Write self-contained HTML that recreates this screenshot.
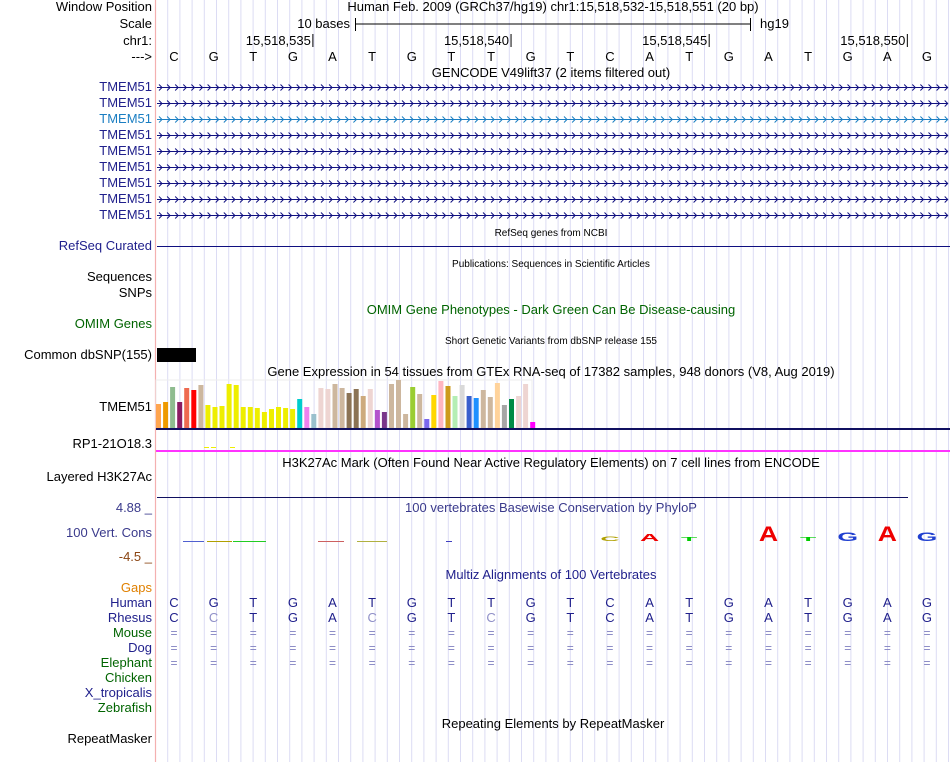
<!DOCTYPE html>
<html><head><meta charset="utf-8"><style>
html,body{margin:0;padding:0;background:#fff;}
svg{display:block;font-family:"Liberation Sans",sans-serif;font-size:13px;}
</style></head><body>
<svg id="chart" width="950" height="762" viewBox="0 0 950 762">
<g id="grid"></g>
<line x1="155.5" y1="0" x2="155.5" y2="762" stroke="#f4b0b0" stroke-width="1.2"/>
<g id="labels" font-size="13" text-anchor="end"></g>
<g id="tracks"></g>
</svg>
<script>
const NS='http://www.w3.org/2000/svg';
const svg=document.getElementById('chart');
const bases=['C','G','T','G','A','T','G','T','T','G','T','C','A','T','G','A','T','G','A','G'];
const rhesus=['C','C','T','G','A','C','G','T','C','G','T','C','A','T','G','A','T','G','A','G'];
const tickLabels=['15,518,535','15,518,540','15,518,545','15,518,550'];
const tickBaseIdx=[3,8,13,18];
const gtexValues=[24,26,41,26,40,38,43,23,21,22,44,43,21,21,20,16,19,21,20,19,29,21,14,40,39,44,40,35,39,32,39,18,16,44,48,14,41,34,9,33,47,42,32,43,32,30,38,31,45,23,29,32,44,6];
const gtexColors=['#ffa54f','#ee9a00','#8fbc8f','#8b1c62','#ee6a50','#ff0000','#cdb79e','#eeee00','#eeee00','#eeee00','#eeee00','#eeee00','#eeee00','#eeee00','#eeee00','#eeee00','#eeee00','#eeee00','#eeee00','#eeee00','#00cdcd','#ee82ee','#9ac0cd','#eed5d2','#eed5d2','#cdb79e','#cdb79e','#8b7355','#8b7355','#cdaa7d','#eed5d2','#b452cd','#7a378b','#cdb79e','#cdb79e','#cdb79e','#9acd32','#cdb79e','#7b68ee','#ffd700','#ffb6c1','#cd9b1d','#b4eeb4','#d9d9d9','#3a5fcd','#1e90ff','#cdb79e','#cdb79e','#ffd39b','#a6a6a6','#008b45','#eed5d2','#eed5d2','#ff00ff'];
const consLetters=['C','A','T','A','T','G','A','G'];
const consIdx=[11,12,13,15,16,17,18,19];
const consScores=[0.3,0.45,0.25,0.95,0.25,0.55,0.95,0.55];
const x0=174, dx=39.63;
function bx(i){return x0+dx*i;}
function el(tag,attrs,parent,text){const e=document.createElementNS(NS,tag);for(const k in attrs)e.setAttribute(k,attrs[k]);if(text!==undefined)e.textContent=text;(parent||svg).appendChild(e);return e;}
const grid=document.getElementById('grid');
for(let x=167.7;x<950;x+=12.2){const l=el('line',{x1:x.toFixed(1),x2:x.toFixed(1),y1:0,y2:762,stroke:'#dcdcf4','stroke-width':1},grid);

}
const labels=document.getElementById('labels');
const lab=[['Window Position',11,'#000'],['Scale',28,'#000'],['chr1:',45,'#000'],['--->',61,'#000'],
['TMEM51',91,'#20208c'],['TMEM51',107,'#20208c'],['TMEM51',123,'#1a7ec2'],['TMEM51',139,'#20208c'],['TMEM51',155,'#20208c'],['TMEM51',171,'#20208c'],['TMEM51',187,'#20208c'],['TMEM51',203,'#20208c'],['TMEM51',219,'#20208c'],
['RefSeq Curated',250,'#20208c'],['Sequences',281,'#000'],['SNPs',297,'#000'],['OMIM Genes',328,'#006400'],['Common dbSNP(155)',359,'#000'],
['TMEM51',411,'#000'],['RP1-21O18.3',448,'#000'],['Layered H3K27Ac',481,'#000'],['100 Vert. Cons',537,'#3a3a8c'],['Gaps',592,'#e08000'],
['Human',607,'#20208c'],['Rhesus',622,'#20208c'],['Mouse',637,'#006400'],['Dog',652,'#20208c'],['Elephant',667,'#006400'],['Chicken',682,'#006400'],['X_tropicalis',697,'#20208c'],['Zebrafish',712,'#006400'],['RepeatMasker',743,'#000']];
lab.forEach(a=>{const t=el('text',{x:152,y:a[1],fill:a[2]},labels,a[0]);

});
el('text',{x:152,y:512,fill:'#3a3a8c','text-anchor':'end'},svg,'4.88 _');
el('text',{x:152,y:561,fill:'#8b4513','text-anchor':'end'},svg,'-4.5 _');
const T=document.getElementById('tracks');
function ctext(x,y,s,fill,size,name){const t=el('text',{x:x,y:y,'text-anchor':'middle',fill:fill||'#000','font-size':size||13},T,s);

return t;}
ctext(553,11,'Human Feb. 2009 (GRCh37/hg19)   chr1:15,518,532-15,518,551 (20 bp)','#000',13,'window-position');
el('line',{x1:355,x2:751,y1:24,y2:24,stroke:'#000'},T);
el('line',{x1:355.5,x2:355.5,y1:18,y2:31,stroke:'#000'},T);
el('line',{x1:750.5,x2:750.5,y1:18,y2:31,stroke:'#000'},T);
el('text',{x:350,y:28,'text-anchor':'end'},T,'10 bases');
el('text',{x:760,y:28},T,'hg19');
tickLabels.forEach((s,i)=>{const x=bx(tickBaseIdx[i])+20;
el('line',{x1:x,x2:x,y1:34,y2:47,stroke:'#000'},T);
const t=el('text',{x:x-2,y:45,'text-anchor':'end'},T,s);

});
bases.forEach((b,i)=>{ctext(bx(i),61,b,'#000',13,'base-letter');});
ctext(551,77,'GENCODE V49lift37 (2 items filtered out)','#000',13,'gencode-title');
for(let r=0;r<9;r++){const y=87+r*16+0.5;const c=r==2?'#1a7ec2':'#101080';
let d=`M157,${y} L948,${y} `;
for(let x=159;x<946;x+=8.1){d+=`M${x.toFixed(1)},${y-3} L${(x+3).toFixed(1)},${y} L${x.toFixed(1)},${y+3} `;}
const p=el('path',{d:d,fill:'none',stroke:c,'stroke-width':1},T);

}
ctext(551,236,'RefSeq genes from NCBI','#000',10,'refseq-title');
el('line',{x1:157,x2:950,y1:246.5,y2:246.5,stroke:'#101080'},T);
ctext(551,267,'Publications: Sequences in Scientific Articles','#000',10,'publications-title');
ctext(551,314,'OMIM Gene Phenotypes - Dark Green Can Be Disease-causing','#006400',13,'omim-title');
ctext(551,344,'Short Genetic Variants from dbSNP release 155','#000',10,'dbsnp-title');
el('rect',{x:157,y:348,width:39,height:14,fill:'#000'},T);
ctext(551,376,'Gene Expression in 54 tissues from GTEx RNA-seq of 17382 samples, 948 donors (V8, Aug 2019)','#000',13,'gtex-title');
el('rect',{x:156,y:380,width:376,height:48,fill:'none',stroke:'#eee'},T);
const base=428, gx=156, gstep=7.06;
gtexValues.forEach((v,i)=>{const r=el('rect',{x:(gx+i*gstep).toFixed(1),y:base-v,width:5,height:v,fill:gtexColors[i]},T);

});
el('rect',{x:156,y:428,width:794,height:2,fill:'#101060'},T);
[204,211,230].forEach(x=>el('rect',{x:x,y:447,width:5,height:1,fill:'#eeee00'},T));
el('rect',{x:156,y:450,width:794,height:2,fill:'#ff33ff'},T);
ctext(551,467,'H3K27Ac Mark (Often Found Near Active Regulatory Elements) on 7 cell lines from ENCODE','#000',13,'h3k27ac-title');
el('line',{x1:157,x2:908,y1:497.5,y2:497.5,stroke:'#101060'},T);
ctext(551,512,'100 vertebrates Basewise Conservation by PhyloP','#3a3a8c',13,'phylop-title');
const lc={A:'#ee0000',T:'#00cc00',G:'#1f3fd0',C:'#b0a000'};
consLetters.forEach((L,i)=>{const h=consScores[i]*16; const x=bx(consIdx[i]);
const t=el('text',{x:0,y:0,'text-anchor':'middle',fill:lc[L],'font-size':14,'font-weight':'bold',transform:`translate(${x},541) scale(1.9,${(h/10).toFixed(2)})`},T,L);

});
[[183,204,'#5060d0'],[207,232,'#b0a000'],[233,266,'#22cc22'],[318,344,'#cc6060'],[357,387,'#b0b040'],[446,452,'#4040c0']].forEach(s=>el('rect',{x:s[0],y:541,width:s[1]-s[0],height:1,fill:s[2]},T));
ctext(551,579,'Multiz Alignments of 100 Vertebrates','#20208c',13,'multiz-title');
bases.forEach((b,i)=>{ctext(bx(i),607,b,'#20208c',13,'human-base');
const same=rhesus[i]===b;ctext(bx(i),622,rhesus[i],same?'#20208c':'#9090c8',13,'rhesus-base');
[637,652,667].forEach(y=>ctext(bx(i),y,'=','#8080c0',12,'match-mark'));});
ctext(553,728,'Repeating Elements by RepeatMasker','#000',13,'repeatmasker-title');
</script>
</body></html>
